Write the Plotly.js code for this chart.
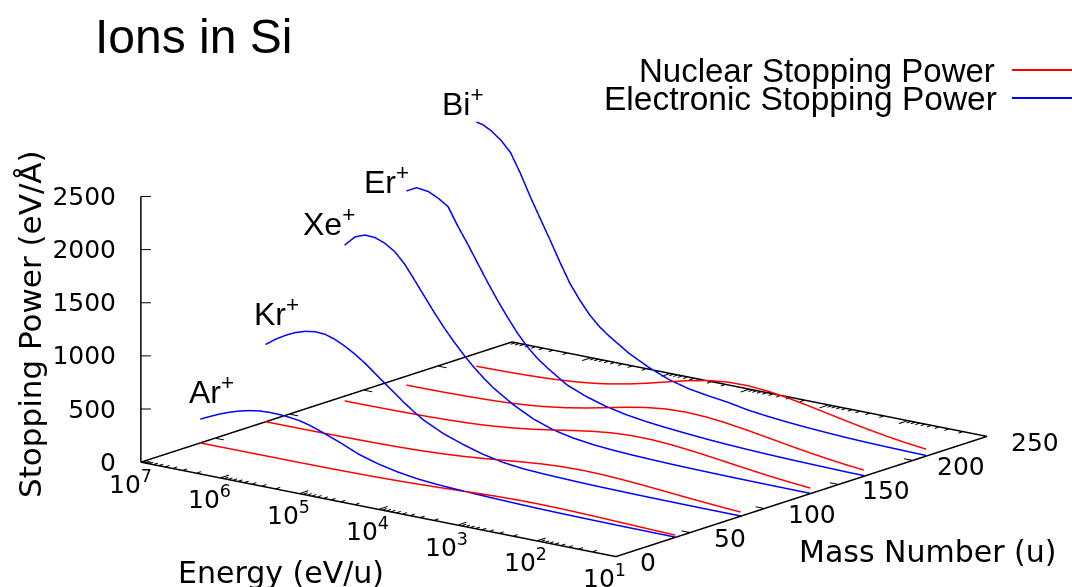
<!DOCTYPE html>
<html>
<head>
<meta charset="utf-8">
<script src="https://cdn.plot.ly/plotly-3.0.1.min.js"></script>
<style>
html,body{margin:0;padding:0;background:#ffffff;}
#chart{width:1072px;height:587px;}
</style>
</head>
<body>
<div id="chart"></div>
<script>
// ---------------- data ----------------
const ionNames = ['Ar', 'Kr', 'Xe', 'Er', 'Bi'];
const ionMass = [40, 84, 131, 167, 209];

// energies in eV/u
const energyAr = [1e7, 7.5e6, 5.62e6, 4.22e6, 3.16e6, 2.37e6, 1.78e6, 1.33e6, 1e6, 7.5e5, 5.62e5, 4.22e5, 3.16e5, 2.37e5, 1.78e5, 1.33e5, 1e5,
  5.62e4, 3.16e4, 1.78e4, 1e4, 5620, 3160, 1780, 1000, 562, 316, 178, 100, 56.2, 31.6, 17.8, 10];
const energyKr = [1e7, 7.5e6, 5.62e6, 4.22e6, 3.16e6, 2.37e6, 1.78e6, 1.33e6, 1e6, 7.5e5, 5.62e5, 4.22e5, 3.16e5, 2.37e5, 1.78e5, 1.33e5, 1e5,
  5.62e4, 3.16e4, 1.78e4, 1e4, 5620, 3160, 1780, 1000, 562, 316, 178, 100, 56.2, 31.6, 17.8, 10];
const energyXe = [7.63e6, 5.62e6, 4.22e6, 3.16e6, 2.37e6, 1.78e6, 1.33e6, 1e6, 7.5e5, 5.62e5, 4.22e5, 3.16e5, 2.37e5, 1.78e5, 1.33e5, 1e5,
  5.62e4, 3.16e4, 1.78e4, 1e4, 5620, 3160, 1780, 1000, 562, 316, 178, 100, 56.2, 31.6, 17.8, 10];
const energyEr = [5.98e6, 4.47e6, 3.16e6, 2.37e6, 1.78e6, 1.33e6, 1e6, 7.5e5, 5.62e5, 4.22e5, 3.16e5, 2.37e5, 1.78e5, 1.33e5, 1e5,
  5.62e4, 3.16e4, 1.78e4, 1e4, 5620, 3160, 1780, 1000, 562, 316, 178, 100, 56.2, 31.6, 17.8, 10];
const energyBi = [4.79e6, 3.98e6, 3.16e6, 2.37e6, 1.78e6, 1.33e6, 1e6, 7.5e5, 5.62e5, 4.22e5, 3.16e5, 2.37e5, 1.78e5, 1.33e5, 1e5,
  5.62e4, 3.16e4, 1.78e4, 1e4, 5620, 3160, 1780, 1000, 562, 316, 178, 100, 56.2, 31.6, 17.8, 10];

// stopping power in eV/Å
const nuclearAr = [0.13, 0.165, 0.21, 0.27, 0.35, 0.45, 0.57, 0.73, 0.93, 1.18, 1.5, 1.9, 2.4, 3.0, 3.8, 4.7, 5.9,
  9.0, 13.6, 19.6, 27.2, 35.8, 44.6, 52.1, 56.9, 58.3, 56.7, 52.5, 46.8, 40.2, 33.5, 27.1, 21.4];
const electronicAr = [224, 268, 310, 345, 375, 397, 412, 417, 415, 408, 395, 372, 340, 305, 270, 230, 190,
  135, 95, 68, 52, 42, 34, 27, 21, 16, 12, 9.5, 7.5, 5.5, 4.2, 3.2, 2.4];
const nuclearKr = [0.48, 0.62, 0.79, 1.0, 1.3, 1.65, 2.1, 2.7, 3.4, 4.3, 5.5, 6.9, 8.7, 10.8, 13.5, 16.7, 20.6,
  31.0, 44.8, 62.3, 82.4, 103.0, 120.7, 132.3, 136.3, 133.0, 123.7, 110.6, 95.4, 79.7, 64.7, 51.1, 39.4];
const electronicKr = [727, 795, 850, 895, 925, 940, 935, 905, 860, 805, 740, 665, 590, 515, 440, 370, 310,
  220, 155, 100, 62, 40, 30, 23, 17, 13, 10, 7.5, 5.8, 4.5, 3.4, 2.6, 2.0];
const nuclearXe = [1.3, 1.7, 2.2, 2.8, 3.6, 4.6, 5.8, 7.4, 9.3, 11.7, 14.7, 18.4, 22.7, 28.1, 34.6, 42.5,
  62.2, 87.4, 117.4, 149.5, 179.0, 200.9, 211.6, 210.5, 199.3, 180.9, 158.2, 133.8, 109.8, 87.7, 68.4, 52.1];
const electronicXe = [1467, 1565, 1600, 1595, 1560, 1500, 1400, 1270, 1135, 1000, 875, 760, 655, 560, 475, 400,
  280, 185, 120, 80, 55, 40, 30, 23, 17, 13, 10, 7.5, 5.8, 4.4, 3.3, 2.5];
const nuclearEr = [2.5, 3.3, 4.2, 5.4, 6.9, 8.7, 11.0, 13.8, 17.4, 21.7, 27.1, 33.5, 41.3, 50.7, 62.2,
  89.7, 124.5, 164.7, 205.5, 240.6, 263.4, 271.1, 264.1, 245.4, 219.2, 188.9, 157.6, 127.8, 101.0, 77.8, 58.8];
const electronicEr = [1829, 1879, 1865, 1820, 1760, 1590, 1440, 1280, 1120, 970, 830, 700, 590, 500, 430,
  305, 230, 175, 135, 108, 88, 72, 57, 45, 36, 28, 22, 17, 13, 9, 7];
const nuclearBi = [4.4, 5.2, 6.2, 7.9, 10.1, 12.7, 16.0, 20.1, 25.2, 31.3, 38.8, 47.8, 58.9, 71.6, 87.1,
  123.8, 168.6, 218.2, 266.0, 304.1, 325.9, 329.1, 315.5, 289.4, 255.4, 217.9, 180.2, 145.0, 113.7, 87.1, 65.4];
const electronicBi = [2302, 2290, 2250, 2180, 2080, 1900, 1700, 1515, 1330, 1140, 960, 820, 700, 605, 535,
  410, 315, 240, 190, 160, 135, 100, 78, 60, 46, 35, 25, 18, 13, 9, 6];

// axes and ticks
const energyRange = [1e7, 10];
const massRange = [0, 250];
const powerRange = [0, 2500];
const energyTicks = [1e7, 1e6, 1e5, 1e4, 1e3, 1e2, 1e1];
const energyTickText = ['10<sup>7</sup>', '10<sup>6</sup>', '10<sup>5</sup>', '10<sup>4</sup>', '10<sup>3</sup>', '10<sup>2</sup>', '10<sup>1</sup>'];
const massTicks = [0, 50, 100, 150, 200, 250];
const powerTicks = [0, 500, 1000, 1500, 2000, 2500];

const legendLabels = ['Nuclear Stopping Power', 'Electronic Stopping Power'];
const titleText = 'Ions in Si';

// ---------------- build ----------------
const energies = [energyAr, energyKr, energyXe, energyEr, energyBi];
const nuclear = [nuclearAr, nuclearKr, nuclearXe, nuclearEr, nuclearBi];
const electronic = [electronicAr, electronicKr, electronicXe, electronicEr, electronicBi];

const RED = '#ff0000', BLUE = '#0000ff';
const traces = [];
const lg = Math.log10;
const EPS = 0.002;

// frame (base rectangle + vertical axis)
traces.push({
  type: 'scatter3d', mode: 'lines', hoverinfo: 'skip', showlegend: false,
  x: [energyRange[0], energyRange[1], energyRange[1], energyRange[0], energyRange[0], null, energyRange[0], energyRange[0]],
  y: [massRange[0], massRange[0], massRange[1], massRange[1], massRange[0], null, massRange[0], massRange[0]],
  z: [powerRange[0], powerRange[0], powerRange[0], powerRange[0], powerRange[0], null, powerRange[0], powerRange[1]],
  line: {color: '#000000', width: 3}
});

// tick marks
const tx = [], ty = [], tz = [];
function seg(a, b) { tx.push(a[0], b[0], null); ty.push(a[1], b[1], null); tz.push(a[2], b[2], null); }
const majLenMass = 6, minLenMass = 3.2, lenDec = 0.11;
for (let d = lg(energyRange[1]); d <= lg(energyRange[0]); d++) {
  const e = Math.pow(10, d);
  seg([e, massRange[0], 0], [e, massRange[0] + majLenMass, 0]);
  seg([e, massRange[1], 0], [e, massRange[1] - majLenMass, 0]);
  if (d < lg(energyRange[0])) {
    for (let k = 2; k <= 9; k++) {
      const em = k * e;
      seg([em, massRange[0], 0], [em, massRange[0] + minLenMass, 0]);
      seg([em, massRange[1], 0], [em, massRange[1] - minLenMass, 0]);
    }
  }
}
massTicks.forEach(m => {
  seg([energyRange[0], m, 0], [Math.pow(10, lg(energyRange[0]) - lenDec), m, 0]);
  seg([energyRange[1], m, 0], [Math.pow(10, lg(energyRange[1]) + lenDec), m, 0]);
});
powerTicks.forEach(p => {
  seg([energyRange[0], massRange[0], p], [Math.pow(10, lg(energyRange[0]) - 0.078), massRange[0] + 2.56, p]);
});
traces.push({type: 'scatter3d', mode: 'lines', hoverinfo: 'skip', showlegend: false,
  x: tx, y: ty, z: tz, line: {color: '#000000', width: 2}});

// curves
for (let i = 0; i < ionNames.length; i++) {
  const ys = energies[i].map(() => ionMass[i]);
  traces.push({type: 'scatter3d', mode: 'lines', name: ionNames[i] + ' nuclear', showlegend: false,
    x: energies[i], y: ys, z: nuclear[i], line: {color: RED, width: 3}});
  traces.push({type: 'scatter3d', mode: 'lines', name: ionNames[i] + ' electronic', showlegend: false,
    x: energies[i], y: ys, z: electronic[i], line: {color: BLUE, width: 3}});
}

// scene annotations
const tickFont = {family: 'DejaVu Sans', size: 25, color: '#000000'};
const sceneAnn = [];
energyTicks.forEach((e, i) => sceneAnn.push({x: Math.min(lg(e), lg(energyRange[0]) - EPS), y: massRange[0] + EPS, z: EPS, text: energyTickText[i],
  showarrow: false, xanchor: 'center', yanchor: 'middle', xshift: -11, yshift: -20, font: tickFont}));
massTicks.forEach(m => sceneAnn.push({x: lg(energyRange[1]) + EPS, y: Math.min(Math.max(m, EPS), massRange[1] - EPS), z: EPS, text: String(m),
  showarrow: false, xanchor: 'left', yanchor: 'middle', xshift: 22, yshift: -6, font: tickFont}));
powerTicks.forEach(p => sceneAnn.push({x: lg(energyRange[0]) - EPS, y: massRange[0] + EPS, z: Math.min(Math.max(p, EPS), powerRange[1] - EPS), text: String(p),
  showarrow: false, xanchor: 'center', width: 70, align: 'right', yanchor: 'middle', xshift: -60, yshift: 0, font: tickFont}));
const labelShift = [[-13, 29], [-14, 33], [-44, 23], [-44, 11], [-36, 20]];
for (let i = 0; i < ionNames.length; i++) {
  sceneAnn.push({x: Math.min(lg(energies[i][0]), lg(energyRange[0]) - EPS), y: ionMass[i], z: electronic[i][0], text: ionNames[i] + '<sup>+</sup>',
    showarrow: false, xanchor: 'left', yanchor: 'middle', xshift: labelShift[i][0], yshift: labelShift[i][1],
    font: {family: 'Liberation Sans', size: 32, color: '#000000'}});
}

const axisCommon = {showgrid: false, zeroline: false, showline: false, showticklabels: false, ticks: '',
  showbackground: false, showspikes: false, title: {text: ''}};

// axis ranges are padded very slightly so the frame lines are not clipped
const S = 2.06;   // overall scale of the box
const k = 2.41;   // camera distance
const view = {x: 0.5965, y: -0.7615, z: 0.2538};
const camCenter = {x: -0.0872, y: -0.0431, z: 0.0756};
const layout = {
  width: 1072, height: 587,
  margin: {l: 0, r: 0, t: 0, b: 0},
  paper_bgcolor: '#ffffff',
  showlegend: false,
  title: {text: titleText, font: {family: 'Liberation Sans', size: 48, color: '#000000'},
    x: 95 / 1072, xanchor: 'left', xref: 'paper', y: 1 - 36 / 587, yanchor: 'middle', yref: 'paper'},
  scene: {
    domain: {x: [0, 1], y: [0, 1]},
    aspectmode: 'manual',
    aspectratio: {x: S * 1, y: S * 0.9975, z: S * 0.4554},
    camera: {up: {x: 0, y: 0, z: 1}, center: camCenter,
      eye: {x: camCenter.x + k * view.x, y: camCenter.y + k * view.y, z: camCenter.z + k * view.z},
      projection: {type: 'orthographic'}},
    xaxis: Object.assign({type: 'log', range: [lg(energyRange[0]) + 0.006, lg(energyRange[1]) - 0.006]}, axisCommon),
    yaxis: Object.assign({range: [massRange[0] - 0.3, massRange[1] + 0.3]}, axisCommon),
    zaxis: Object.assign({range: [powerRange[0] - 3, powerRange[1] + 3]}, axisCommon),
    annotations: sceneAnn
  },
  annotations: [
    {text: 'Stopping Power (eV/Å)', x: 30 / 1072, y: 1 - 324 / 587, xref: 'paper', yref: 'paper', textangle: -90,
      xanchor: 'center', yanchor: 'middle',
      showarrow: false, font: {family: 'DejaVu Sans', size: 31, color: '#000000'}},
    {text: 'Energy (eV/u)', x: 281 / 1072, y: 1 - 572 / 587, xref: 'paper', yref: 'paper', xanchor: 'center', yanchor: 'middle',
      showarrow: false, font: {family: 'DejaVu Sans', size: 30, color: '#000000'}},
    {text: 'Mass Number (u)', x: 928 / 1072, y: 1 - 551 / 587, xref: 'paper', yref: 'paper', xanchor: 'center', yanchor: 'middle',
      showarrow: false, font: {family: 'DejaVu Sans', size: 30, color: '#000000'}},
    {text: legendLabels[0], x: 997 / 1072, y: 1 - 71 / 587, xref: 'paper', yref: 'paper', xanchor: 'right', yanchor: 'middle',
      showarrow: false, font: {family: 'Liberation Sans', size: 33, color: '#000000'}},
    {text: legendLabels[1], x: 999 / 1072, y: 1 - 98 / 587, xref: 'paper', yref: 'paper', xanchor: 'right', yanchor: 'middle',
      showarrow: false, font: {family: 'Liberation Sans', size: 33.5, color: '#000000'}}
  ],
  shapes: [
    {type: 'line', xref: 'paper', yref: 'paper', x0: 1012 / 1072, x1: 1, y0: 1 - 70 / 587, y1: 1 - 70 / 587, line: {color: RED, width: 2}},
    {type: 'line', xref: 'paper', yref: 'paper', x0: 1012 / 1072, x1: 1, y0: 1 - 98 / 587, y1: 1 - 98 / 587, line: {color: BLUE, width: 2}}
  ]
};

Plotly.newPlot('chart', traces, layout, {displayModeBar: false});
</script>
</body>
</html>
